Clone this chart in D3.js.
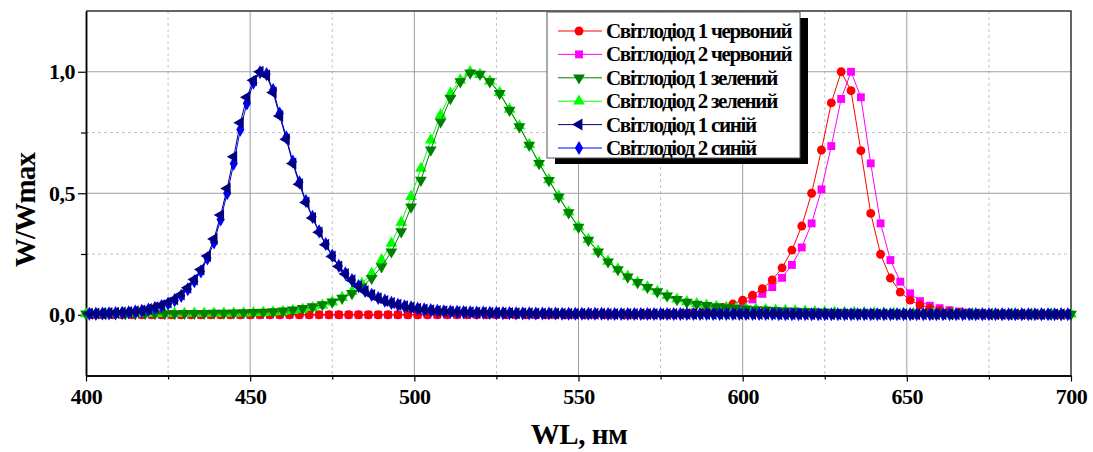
<!DOCTYPE html>
<html>
<head>
<meta charset="utf-8">
<script src="https://cdnjs.cloudflare.com/ajax/libs/d3/7.8.5/d3.min.js"></script>
<style>
  body { margin: 0; background: #fff; }
  text { font-family: "Liberation Serif", "Times New Roman", serif; font-weight: bold; fill: #000; }
</style>
</head>
<body>
<div id="chart"></div>
<script>
// wavelength grids (nm)
var wlRed = d3.range(402, 700, 3);
var wlGreen = d3.range(400, 701, 3);
var wlBlue = d3.range(401, 700, 2);

// normalised spectra W/Wmax
var red1 = [
  0,0,0,0,0,0,0,0,0,0, 0,0,0,0,0,0,0,0,0,0, 0,0,0,0,0,0,0,0,0,0,
  0,0,0,0,0,0,0,0,0,0, 0,0,0,0,0,0,0,0,0,0, 0,0,0,0,0,0,
  0.001,0.001,0.002,
  0.003,0.005,0.008,0.013,0.020,0.030,0.044,0.060,0.080,0.107,
  0.143,0.193,0.266,0.365,0.500,0.678,0.872,1.000,0.922,0.675,
  0.417,0.249,0.151,0.093,0.060,0.040,0.026,0.018,0.012,0.008,
  0.005,0.003,0.002,0.001,0,0,0,0,0,0,
  0
];
var red2 = [
  0,0,0,0,0,0,0,0,0,0, 0,0,0,0,0,0,0,0,0,0, 0,0,0,0,0,0,0,0,0,0,
  0,0,0,0,0,0,0,0,0,0, 0,0,0,0,0,0,0,0,0,0, 0,0,0,0,0,0,
  0.001,0.001,0.002,
  0.002,0.004,0.006,0.010,0.015,0.022,0.032,0.046,0.063,0.086,
  0.114,0.152,0.205,0.277,0.376,0.516,0.694,0.888,1.000,0.895,
  0.623,0.376,0.225,0.136,0.088,0.056,0.037,0.027,0.019,0.013,
  0.009,0.006,0.004,0.003,0.002,0.001,0,0,0,0,
  0
];
var green1 = [
  0.004,0.004,0.004,0.004,0.004,0.004,0.005,0.005,0.005,0.005,
  0.006,0.006,0.006,0.007,0.007,0.008,0.009,0.010,0.011,0.013,
  0.016,0.020,0.026,0.033,0.042,0.053,0.068,0.088,0.115,0.150,
  0.198,0.259,0.342,0.444,0.554,0.678,0.794,0.890,0.959,0.995,
  0.990,0.959,0.911,0.842,0.774,0.698,0.623,0.553,0.485,0.420,
  0.360,0.307,0.259,0.218,0.186,0.156,0.133,0.113,0.095,0.078,
  0.063,0.052,0.044,0.038,0.033,0.029,0.026,0.024,0.021,0.020,
  0.018,0.016,0.015,0.013,0.012,0.011,0.010,0.009,0.008,0.008,
  0.007,0.006,0.006,0.005,0.005,0.005,0.004,0.004,0.004,0.004,
  0.003,0.003,0.003,0.003,0.003,0.003,0.003,0.002,0.002,0.002,
  0.002
];
var green2 = [
  0.004,0.004,0.004,0.004,0.004,0.005,0.005,0.005,0.005,0.005,
  0.005,0.006,0.006,0.006,0.006,0.006,0.007,0.008,0.009,0.011,
  0.013,0.017,0.022,0.029,0.039,0.052,0.071,0.096,0.128,0.170,
  0.225,0.294,0.380,0.486,0.602,0.719,0.822,0.911,0.966,1.000,
  0.988,0.962,0.914,0.845,0.777,0.700,0.625,0.555,0.487,0.422,
  0.362,0.309,0.261,0.220,0.188,0.158,0.134,0.114,0.096,0.079,
  0.064,0.053,0.045,0.039,0.034,0.030,0.027,0.024,0.022,0.020,
  0.018,0.017,0.015,0.014,0.012,0.011,0.010,0.009,0.009,0.008,
  0.007,0.007,0.006,0.006,0.005,0.005,0.005,0.004,0.004,0.004,
  0.004,0.004,0.003,0.003,0.003,0.003,0.003,0.003,0.003,0.003,
  0.003
];
var blue1 = [
  0.005,0.005,0.006,0.007,0.008,0.009,0.011,0.014,0.018,0.024,
  0.031,0.039,0.050,0.064,0.083,0.111,0.145,0.186,0.242,0.312,
  0.410,0.520,0.650,0.790,0.895,0.965,1.000,0.985,0.915,0.818,
  0.722,0.622,0.537,0.462,0.398,0.339,0.288,0.240,0.199,0.168,
  0.142,0.117,0.097,0.081,0.068,0.057,0.048,0.041,0.035,0.030,
  0.025,0.022,0.019,0.016,0.014,0.013,0.012,0.011,0.010,0.009,
  0.009,0.008,0.008,0.007,0.007,0.006,0.006,0.006,0.005,0.005,
  0.005,0.005,0.004,0.004,0.004,0.004,0.004,0.004,0.004,0.003,
  0.003,0.003,0.003,0.003,0.003,0.003,0.003,0.003,0.003,0.003,
  0.003,0.003,0.003,0.003,0.003,0.003,0.003,0.003,0.003,0.003,
  0.003,0.003,0.003,0.003,0.003,0.002,0.002,0.002,0.002,0.002,
  0.002,0.002,0.002,0.002,0.002,0.002,0.002,0.002,0.002,0.002,
  0.002,0.002,0.002,0.002,0.002,0.002,0.002,0.002,0.002,0.002,
  0.002,0.002,0.002,0.002,0.002,0.002,0.002,0.002,0.002,0.002,
  0.002,0.002,0.002,0.002,0.002,0.002,0.002,0.002,0.002,0.002
];
var blue2 = [
  0.004,0.004,0.005,0.006,0.007,0.008,0.010,0.013,0.016,0.021,
  0.028,0.036,0.046,0.060,0.078,0.105,0.138,0.178,0.232,0.298,
  0.392,0.500,0.622,0.762,0.870,0.955,0.998,0.990,0.925,0.828,
  0.730,0.630,0.545,0.468,0.403,0.343,0.291,0.243,0.201,0.170,
  0.143,0.118,0.098,0.082,0.069,0.058,0.049,0.041,0.035,0.030,
  0.025,0.022,0.019,0.016,0.014,0.013,0.012,0.011,0.010,0.009,
  0.009,0.008,0.008,0.007,0.007,0.006,0.006,0.006,0.005,0.005,
  0.005,0.005,0.004,0.004,0.004,0.004,0.004,0.004,0.004,0.003,
  0.003,0.003,0.003,0.003,0.003,0.003,0.003,0.003,0.003,0.003,
  0.003,0.003,0.003,0.003,0.003,0.003,0.003,0.003,0.003,0.003,
  0.003,0.003,0.003,0.003,0.003,0.002,0.002,0.002,0.002,0.002,
  0.002,0.002,0.002,0.002,0.002,0.002,0.002,0.002,0.002,0.002,
  0.002,0.002,0.002,0.002,0.002,0.002,0.002,0.002,0.002,0.002,
  0.002,0.002,0.002,0.002,0.002,0.002,0.002,0.002,0.002,0.002,
  0.002,0.002,0.002,0.002,0.002,0.002,0.002,0.002,0.002,0.002
];

var seriesNames = ["Світлодіод 1 червоний", "Світлодіод 2 червоний", "Світлодіод 1 зелений",
                   "Світлодіод 2 зелений", "Світлодіод 1 синій", "Світлодіод 2 синій"];
var xTicks = [400, 450, 500, 550, 600, 650, 700];
var xMinorTicks = [425, 475, 525, 575, 625, 675];
var yTicks = [0, 0.5, 1.0];
var yMinorTicks = [0.25, 0.75];

// series table built from the arrays above (legend order)
var series = [
  { name: seriesNames[0], x: wlRed,   y: red1,   color: "#ff0000", symbol: d3.symbolCircle,   size: 62, rot: 0 },
  { name: seriesNames[1], x: wlRed,   y: red2,   color: "#ff00ff", symbol: d3.symbolSquare,   size: 62, rot: 0 },
  { name: seriesNames[2], x: wlGreen, y: green1, color: "#008000", symbol: d3.symbolTriangle, size: 60, rot: 180 },
  { name: seriesNames[3], x: wlGreen, y: green2, color: "#00ff00", symbol: d3.symbolTriangle, size: 60, rot: 0 },
  { name: seriesNames[4], x: wlBlue,  y: blue1,  color: "#000080", symbol: d3.symbolTriangle, size: 62, rot: -90 },
  { name: seriesNames[5], x: wlBlue,  y: blue2,  color: "#0000ff", symbol: d3.symbolDiamond,  size: 58, rot: 0 }
];
// drawing order: within each colour pair the "1" series sits on top
var drawOrder = [1, 0, 3, 2, 5, 4];

var svgWidth = 1093;
var svgHeight = 452;
var margin = { top: 11, right: 22, bottom: 76.5, left: 86 };
var chartWidth = svgWidth - margin.left - margin.right;
var chartHeight = svgHeight - margin.top - margin.bottom;

var svg = d3.select("#chart")
  .append("svg")
  .attr("width", svgWidth)
  .attr("height", svgHeight);

var chartGroup = svg.append("g")
  .attr("transform", `translate(${margin.left}, ${margin.top})`);

var xScale = d3.scaleLinear().domain([400, 700]).range([0, chartWidth]);
var yScale = d3.scaleLinear().domain([-0.25, 1.25]).range([chartHeight, 0]);

// grid
chartGroup.selectAll(".gx-minor").data(xMinorTicks).enter().append("line")
  .attr("x1", d => xScale(d)).attr("x2", d => xScale(d))
  .attr("y1", 0).attr("y2", chartHeight)
  .attr("stroke", "#c4c4c4").attr("stroke-dasharray", "3,3");
chartGroup.selectAll(".gy-minor").data(yMinorTicks).enter().append("line")
  .attr("x1", 0).attr("x2", chartWidth)
  .attr("y1", d => yScale(d)).attr("y2", d => yScale(d))
  .attr("stroke", "#c4c4c4").attr("stroke-dasharray", "3,3");
chartGroup.selectAll(".gx").data(xTicks.slice(1, -1)).enter().append("line")
  .attr("x1", d => xScale(d)).attr("x2", d => xScale(d))
  .attr("y1", 0).attr("y2", chartHeight)
  .attr("stroke", "#a0a0a0");
chartGroup.selectAll(".gy").data(yTicks).enter().append("line")
  .attr("x1", 0).attr("x2", chartWidth)
  .attr("y1", d => yScale(d)).attr("y2", d => yScale(d))
  .attr("stroke", "#a0a0a0");

// frame (top / right)
chartGroup.append("path")
  .attr("d", `M0,0H${chartWidth}V${chartHeight}`)
  .attr("fill", "none").attr("stroke", "#333").attr("stroke-width", 1.5);

// axes
var bottomAxis = d3.axisBottom(xScale).tickValues(xTicks).tickFormat(d3.format("d"))
  .tickSizeInner(6).tickSizeOuter(0).tickPadding(7);
var bottomMinor = d3.axisBottom(xScale).tickValues(xMinorTicks).tickFormat("")
  .tickSizeInner(4).tickSizeOuter(0);
var leftAxis = d3.axisLeft(yScale).tickValues(yTicks)
  .tickFormat(d => d3.format(".1f")(d).replace(".", ","))
  .tickSizeInner(8).tickSizeOuter(0).tickPadding(3);
var leftMinor = d3.axisLeft(yScale).tickValues(yMinorTicks).tickFormat("")
  .tickSizeInner(5).tickSizeOuter(0);

[bottomAxis, bottomMinor].forEach(function(ax) {
  chartGroup.append("g").attr("transform", `translate(0, ${chartHeight})`).call(ax);
});
[leftAxis, leftMinor].forEach(function(ax) {
  chartGroup.append("g").call(ax);
});
chartGroup.selectAll(".domain").attr("stroke", "#000").attr("stroke-width", 1.5);
chartGroup.selectAll(".tick line").attr("stroke", "#000").attr("stroke-width", 1.2);
chartGroup.selectAll(".tick text").attr("font-size", 22).attr("fill", "#000")
  .attr("letter-spacing", -0.5)
  .style("font-family", "'Liberation Serif', serif").style("font-weight", "bold");

// lines and markers
var lineGen = d3.line();
drawOrder.forEach(function(k) {
  var s = series[k];
  var pts = s.x.map((x, i) => [xScale(x), yScale(s.y[i])]);
  chartGroup.append("path")
    .attr("d", lineGen(pts))
    .attr("fill", "none").attr("stroke", s.color).attr("stroke-width", 1);
  chartGroup.append("g").selectAll("path").data(pts).enter().append("path")
    .attr("d", d3.symbol().type(s.symbol).size(s.size))
    .attr("transform", d => `translate(${d[0]},${d[1]}) rotate(${s.rot})`)
    .attr("fill", s.color);
});

// axis titles
svg.append("text")
  .attr("transform", "translate(35, 210) rotate(-90)")
  .attr("text-anchor", "middle")
  .attr("font-size", 29)
  .attr("letter-spacing", -0.8)
  .text("W/Wmax");

svg.append("text")
  .attr("x", 579).attr("y", 444)
  .attr("text-anchor", "middle")
  .attr("font-size", 29)
  .attr("letter-spacing", -0.5)
  .text("WL, нм");

// legend
var legend = svg.append("g").attr("transform", "translate(547, 12)");
legend.append("rect")
  .attr("x", 8).attr("y", 6).attr("width", 253).attr("height", 146)
  .attr("fill", "#000");
legend.append("rect")
  .attr("x", 0).attr("y", 0).attr("width", 253).attr("height", 146)
  .attr("fill", "#fff").attr("stroke", "#555").attr("stroke-width", 1);

var rows = legend.selectAll(".row").data(series).enter().append("g")
  .attr("transform", (d, i) => `translate(0, ${19 + i * 23.4})`);
rows.append("line")
  .attr("x1", 11).attr("x2", 55).attr("y1", 0).attr("y2", 0)
  .attr("stroke", d => d.color).attr("stroke-width", 1);
rows.append("path")
  .attr("d", d => d3.symbol().type(d.symbol).size(d.size)())
  .attr("transform", d => `translate(32,0) rotate(${d.rot})`)
  .attr("fill", d => d.color);
rows.append("text")
  .attr("x", 59).attr("y", 7)
  .attr("font-size", 21)
  .attr("letter-spacing", -1.3)
  .text(d => d.name);
</script>
</body>
</html>
